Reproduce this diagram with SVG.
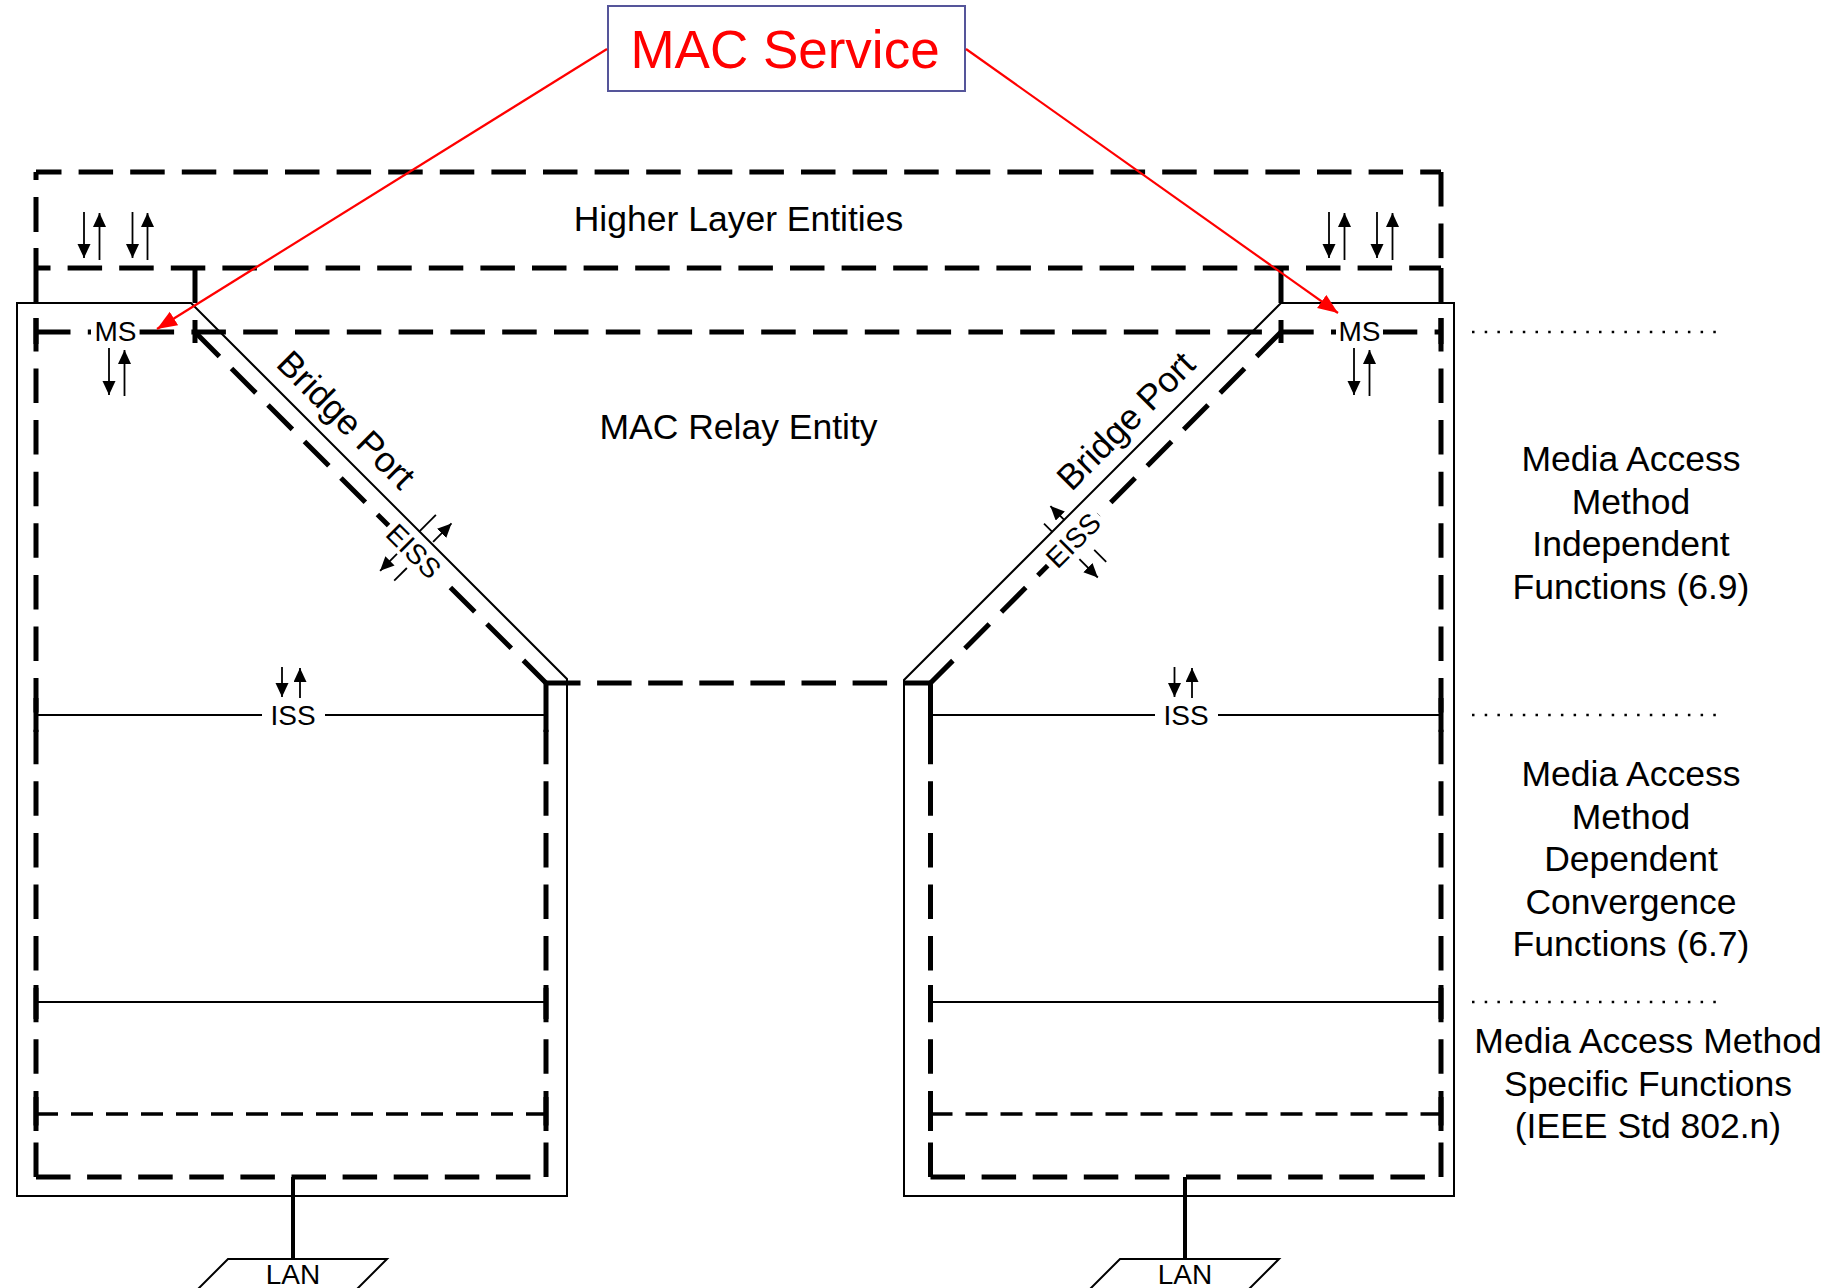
<svg xmlns="http://www.w3.org/2000/svg" width="1836" height="1288" viewBox="0 0 1836 1288">
<defs>
<style>
.dt{stroke:#000;stroke-width:5;fill:none;stroke-dasharray:34.5 17.1}
.sd{stroke:#000;stroke-width:3.5;fill:none;stroke-dasharray:22 13}
.sol{stroke:#000;stroke-width:5;fill:none}
.thin{stroke:#000;stroke-width:2;fill:none}
.ar{stroke:#000;stroke-width:1.8;fill:none;marker-end:url(#ah)}
.ln{stroke:#000;stroke-width:1.8;fill:none}
.dot{stroke:#000;stroke-width:2.5;fill:none;stroke-dasharray:2.5 10.2}
.red{stroke:#ff0000;stroke-width:2.2;fill:none;marker-end:url(#rh)}
.wb{fill:#fff;stroke:none}
text{font-family:'Liberation Sans',Arial,Helvetica,sans-serif;fill:#000}
.lg{font-size:35.5px;text-anchor:middle}
.sm{font-size:28px;text-anchor:middle}
.bp{font-size:35.5px;text-anchor:middle}
</style>
<marker id="ah" markerUnits="userSpaceOnUse" markerWidth="15" markerHeight="14" refX="14" refY="6.5" orient="auto"><path d="M0,0 L14,6.5 L0,13 z" fill="#000"/></marker>
<marker id="rh" markerUnits="userSpaceOnUse" markerWidth="21" markerHeight="17" refX="20" refY="8" orient="auto"><path d="M0,0 L20,8 L0,16 z" fill="#ff0000"/></marker>
</defs>
<rect width="1836" height="1288" fill="#fff"/>

<g id="higher-layer">
<line class="dt" x1="36" y1="172" x2="1441" y2="172" style="stroke-dashoffset:9"/>
<line class="dt" x1="36" y1="268" x2="1441" y2="268" style="stroke-dashoffset:20"/>
<line class="dt" x1="36" y1="172" x2="36" y2="268" style="stroke-dasharray:8 17 35 16 40"/>
<line class="dt" x1="1441" y1="172" x2="1441" y2="268"/>
<path class="sol" d="M36,268 V303 M195,268 V303 M1281,268 V303 M1441,268 V303"/>
<text class="lg" x="738.5" y="231">Higher Layer Entities</text>
<line class="ar" x1="84" y1="212" x2="84" y2="258"/>
<line class="ar" x1="99.5" y1="260" x2="99.5" y2="213"/>
<line class="ar" x1="132.5" y1="212" x2="132.5" y2="258"/>
<line class="ar" x1="147.5" y1="260" x2="147.5" y2="213"/>
<line class="ar" x1="1329" y1="212" x2="1329" y2="258"/>
<line class="ar" x1="1344.5" y1="260" x2="1344.5" y2="213"/>
<line class="ar" x1="1377" y1="212" x2="1377" y2="258"/>
<line class="ar" x1="1392.5" y1="260" x2="1392.5" y2="213"/>
</g>

<g id="mac-relay">
<line class="dt" x1="36" y1="332" x2="1441" y2="332" style="stroke-dasharray:34.5 17.3"/>
<line class="dt" x1="546" y1="683" x2="930.5" y2="683" style="stroke-dasharray:34.5 16.6"/>
<line class="dt" x1="195" y1="332" x2="546" y2="683"/>
<line class="dt" x1="1281" y1="332" x2="930.5" y2="683"/>
<path class="sol" d="M195,320 V343 M1281,320 V343"/>
<text class="lg" x="738.5" y="439">MAC Relay Entity</text>
</g>

<g id="port-left">
<path class="thin" d="M17,303 H191 L567,679 V1196 H17 Z"/>
<line class="dt" x1="36" y1="1177" x2="36" y2="318"/>
<line class="dt" x1="36" y1="1177" x2="546" y2="1177" style="stroke-dasharray:34.5 16.6"/>
<line class="dt" x1="546" y1="1177" x2="546" y2="724"/>
<path class="sol" d="M546,681 V724 M36,318 V344 M36,698 V732 M546,698 V732 M36,985 V1019 M546,985 V1019 M36,1097 V1131 M546,1097 V1131"/>
<path class="thin" d="M36,715 H262 M325,715 H546"/>
<line class="thin" x1="36" y1="1002" x2="546" y2="1002"/>
<line class="sd" x1="36" y1="1114" x2="546" y2="1114"/>
<rect class="wb" x="91" y="319" width="47" height="26"/>
<text class="sm" x="115.5" y="341">MS</text>
<line class="ar" x1="109" y1="348" x2="109" y2="395"/>
<line class="ar" x1="124.5" y1="396" x2="124.5" y2="350"/>
<text class="sm" x="293" y="725">ISS</text>
<line class="ar" x1="282" y1="667" x2="282" y2="697"/>
<line class="ar" x1="300" y1="698" x2="300" y2="668"/>
<text class="bp" transform="translate(337.6,428.4) rotate(45)">Bridge Port</text>
<g transform="translate(406.9,558.1) rotate(45)">
<rect class="wb" x="-36" y="-21" width="72" height="23"/>
<text class="sm" x="0" y="0">EISS</text>
</g>
<path class="ln" d="M435.9,514.9 L419,531.9"/>
<line class="ar" x1="397" y1="553.8" x2="380.1" y2="570.8"/>
<path class="ln" d="M394.2,580.7 L406.9,568"/>
<line class="ar" x1="433.1" y1="541.8" x2="451.5" y2="523.4"/>
<line class="sol" x1="293" y1="1177" x2="293" y2="1259" style="stroke-width:4"/>
<path class="thin" d="M228,1259 H387 L356,1290 H197 Z"/>
<text class="sm" x="293" y="1284">LAN</text>
</g>

<g id="port-right">
<path class="thin" d="M1454,303 H1281 L904,680 V1196 H1454 Z"/>
<line class="dt" x1="1441" y1="1177" x2="1441" y2="318"/>
<line class="dt" x1="930.5" y1="1177" x2="1441" y2="1177" style="stroke-dasharray:34.5 16.6"/>
<line class="dt" x1="930.5" y1="1177" x2="930.5" y2="724"/>
<path class="sol" d="M930.5,681 V724 M1441,318 V344 M930.5,698 V732 M1441,698 V732 M930.5,985 V1019 M1441,985 V1019 M930.5,1097 V1131 M1441,1097 V1131"/>
<path class="thin" d="M930.5,715 H1155 M1218,715 H1441"/>
<line class="thin" x1="930.5" y1="1002" x2="1441" y2="1002"/>
<line class="sd" x1="930.5" y1="1114" x2="1441" y2="1114"/>
<rect class="wb" x="1336" y="319" width="47" height="26"/>
<text class="sm" x="1359.5" y="341">MS</text>
<line class="ar" x1="1354" y1="348" x2="1354" y2="395"/>
<line class="ar" x1="1369.5" y1="396" x2="1369.5" y2="350"/>
<text class="sm" x="1186" y="725">ISS</text>
<line class="ar" x1="1174.5" y1="667" x2="1174.5" y2="697"/>
<line class="ar" x1="1192" y1="698" x2="1192" y2="668"/>
<text class="bp" transform="translate(1134.4,429.4) rotate(-45)">Bridge Port</text>
<g transform="translate(1080.1,547.1) rotate(-45)">
<rect class="wb" x="-36" y="-21" width="72" height="23"/>
<text class="sm" x="0" y="0">EISS</text>
</g>
<path class="ln" d="M1044,523.7 L1052.5,532.2"/>
<line class="ar" x1="1079.4" y1="559.1" x2="1097.8" y2="577.5"/>
<path class="ln" d="M1106.2,561.9 L1094.2,549.9"/>
<line class="ar" x1="1064.5" y1="520.2" x2="1050.4" y2="506.1"/>
<line class="sol" x1="1185" y1="1177" x2="1185" y2="1259" style="stroke-width:4"/>
<path class="thin" d="M1120,1259 H1279 L1248,1290 H1089 Z"/>
<text class="sm" x="1185" y="1284">LAN</text>
</g>

<g id="layer-labels">
<path class="dot" d="M1472,332 H1726 M1472,715 H1726 M1472,1002 H1726"/>
<text class="lg" x="1631" y="471">Media Access</text>
<text class="lg" x="1631" y="513.5">Method</text>
<text class="lg" x="1631" y="556">Independent</text>
<text class="lg" x="1631" y="598.5">Functions (6.9)</text>
<text class="lg" x="1631" y="786">Media Access</text>
<text class="lg" x="1631" y="828.5">Method</text>
<text class="lg" x="1631" y="871">Dependent</text>
<text class="lg" x="1631" y="913.5">Convergence</text>
<text class="lg" x="1631" y="956">Functions (6.7)</text>
<text class="lg" x="1648" y="1053">Media Access Method</text>
<text class="lg" x="1648" y="1095.5">Specific Functions</text>
<text class="lg" x="1648" y="1138">(IEEE Std 802.n)</text>
</g>

<g id="mac-service">
<rect x="608" y="6" width="357" height="85" fill="#fff" stroke="#55559a" stroke-width="2"/>
<text x="785" y="68" style="font-size:53px;text-anchor:middle;fill:#ff0000">MAC Service</text>
</g>

<g id="connectors">
<line class="red" x1="607" y1="49" x2="157" y2="329"/>
<line class="red" x1="966" y1="49" x2="1338" y2="313"/>
</g>
</svg>
